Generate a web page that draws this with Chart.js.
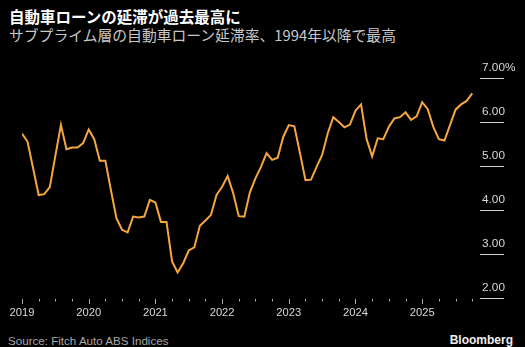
<!DOCTYPE html>
<html>
<head>
<meta charset="utf-8">
<script src="https://cdn.jsdelivr.net/npm/chart.js@4"></script>
<style>
  html, body { margin: 0; padding: 0; background: #000; }
  body { width: 525px; height: 347px; position: relative; overflow: hidden; }
  .title { position: absolute; left: 9px; top: 9px; font: bold 15.5px/15.5px "Noto Sans CJK JP", sans-serif; color: #fff; white-space: nowrap; }
  .subtitle { position: absolute; left: 9px; top: 28px; font: 14.8px/14.8px "Noto Sans CJK JP", sans-serif; color: #c8c8c8; white-space: nowrap; }
  .source { position: absolute; left: 8px; top: 335px; font: 11.6px/12px "Liberation Sans", sans-serif; color: #a8a8a8; }
  .brand { position: absolute; right: 12px; top: 334px; font: bold 12px/12px "Liberation Sans", sans-serif; color: #eee; }
  #wrap { position: absolute; left: 0; top: 50px; width: 525px; height: 270px; }
</style>
</head>
<body>
<div class="title">自動車ローンの延滞が過去最高に</div>
<div class="subtitle">サブプライム層の自動車ローン延滞率、1994年以降で最高</div>
<div id="wrap"><canvas id="delinquencyChart"></canvas></div>
<div class="source">Source: Fitch Auto ABS Indices</div>
<div class="brand">Bloomberg</div>
<script>
// monthly subprime auto loan 60+ day delinquency rate (%), Jan 2019 onwards
var years = ['2019', '2020', '2021', '2022', '2023', '2024', '2025'];
var rate = [
    5.74, 5.55, 4.95, 4.34, 4.36, 4.52, 5.23, 5.93, 5.38, 5.42, 5.42, 5.52,
    5.83, 5.61, 5.12, 5.12, 4.45, 3.81, 3.55, 3.49, 3.85, 3.83, 3.85, 4.23,
    4.17, 3.73, 3.73, 2.83, 2.58, 2.79, 3.08, 3.15, 3.64, 3.76, 3.89, 4.34,
    4.53, 4.77, 4.38, 3.86, 3.85, 4.40, 4.72, 4.98, 5.29, 5.14, 5.19, 5.66,
    5.93, 5.90, 5.30, 4.68, 4.69, 4.98, 5.25, 5.74, 6.11, 6.00, 5.88, 5.94,
    6.26, 6.40, 5.61, 5.22, 5.63, 5.61, 5.89, 6.08, 6.11, 6.22, 6.05, 6.13,
    6.45, 6.29, 5.89, 5.61, 5.58, 5.93, 6.28, 6.40, 6.48, 6.65
];
var yTicks = [2, 3, 4, 5, 6, 7];

var points = rate.map(function (v, i) { return { x: i, y: v }; });

// quarterly tick marks under the x axis, taller on each January
var quarterTicks = {
    id: 'quarterTicks',
    afterDraw: function (chart) {
        var xs = chart.scales.x;
        var ctx = chart.ctx;
        var top = chart.chartArea.bottom + 1;
        ctx.save();
        ctx.strokeStyle = '#b0b0b0';
        ctx.lineWidth = 1;
        for (var m = 0; m < rate.length; m += 3) {
            var px = Math.round(xs.getPixelForValue(m)) + 0.5;
            ctx.beginPath();
            ctx.moveTo(px, top);
            ctx.lineTo(px, top + (m % 12 === 0 ? 5 : 2.5));
            ctx.stroke();
        }
        ctx.restore();
    }
};

var ctx1 = document.getElementById('delinquencyChart').getContext('2d');
var delinquencyChart = new Chart(ctx1, {
    type: 'line',
    data: {
        datasets: [{
            data: points,
            borderColor: '#f6a641',
            borderWidth: 2,
            pointRadius: 0,
            tension: 0,
            fill: false
        }]
    },
    options: {
        responsive: true,
        maintainAspectRatio: false,
        animation: false,
        layout: { padding: { left: 22, top: 28, right: 0, bottom: 0 } },
        plugins: {
            legend: { display: false },
            tooltip: { enabled: false }
        },
        scales: {
            x: {
                type: 'linear',
                min: 0,
                max: 82.4,
                afterBuildTicks: function (scale) {
                    scale.ticks = years.map(function (y, i) { return { value: i * 12 }; });
                },
                afterFit: function (scale) { scale.height = 22; },
                ticks: {
                    autoSkip: false,
                    maxRotation: 0,
                    padding: 8,
                    color: '#d8d8d8',
                    font: { family: 'Liberation Sans', size: 11.2 },
                    callback: function (value) { return years[value / 12]; }
                },
                grid: { display: false, drawTicks: false },
                border: { display: false }
            },
            y: {
                position: 'right',
                min: 2,
                max: 7,
                afterBuildTicks: function (scale) {
                    scale.ticks = yTicks.map(function (v) { return { value: v }; });
                },
                afterFit: function (scale) { scale.width = 45; },
                ticks: {
                    padding: -22,
                    labelOffset: -10,
                    color: '#d8d8d8',
                    font: { family: 'Liberation Sans', size: 11.8 },
                    callback: function (value) {
                        return value === 7 ? '7.00%' : value.toFixed(2);
                    }
                },
                grid: {
                    drawOnChartArea: false,
                    drawTicks: true,
                    tickLength: 24,
                    color: '#cfcfcf',
                    lineWidth: 1
                },
                border: { display: false }
            }
        }
    },
    plugins: [quarterTicks]
});
</script>
</body>
</html>
